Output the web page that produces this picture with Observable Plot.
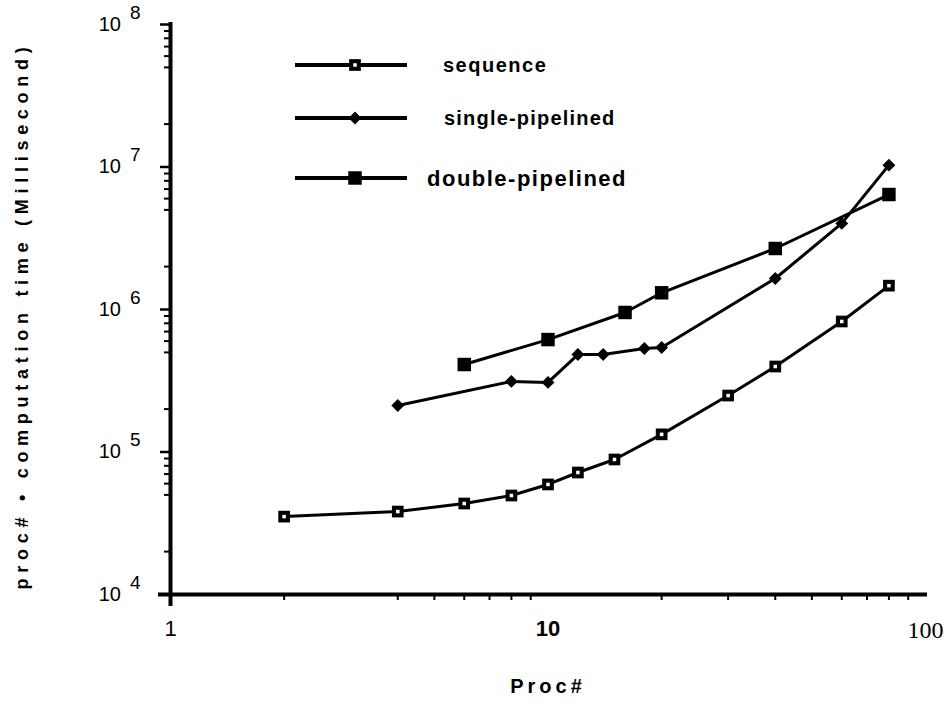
<!DOCTYPE html>
<html><head><meta charset="utf-8">
<script src="https://cdn.jsdelivr.net/npm/d3@7"></script>
<script src="https://cdn.jsdelivr.net/npm/@observablehq/plot@0.6"></script>
<style>
body{margin:0;background:#fff;}
#wrap{position:relative;width:950px;height:708px;background:#fff;}
#legend{position:absolute;left:0;top:0;pointer-events:none;}
</style></head><body><div id="wrap"></div>
<script>
// ---- data ----
const seriesNames = ["sequence", "single-pipelined", "double-pipelined"];
const seqProcs  = [2, 4, 6, 8, 10, 12, 15, 20, 30, 40, 60, 80];
const seqTimes  = [35200, 38200, 43500, 49500, 59200, 71800, 88600, 133000, 249000, 398000, 824000, 1470000];
const singleProcs = [4, 8, 10, 12, 14, 18, 20, 40, 60, 80];
const singleTimes = [212000, 313000, 308000, 483000, 483000, 532000, 541000, 1650000, 4020000, 10300000];
const doubleProcs = [6, 10, 16, 20, 40, 80];
const doubleTimes = [411000, 615000, 953000, 1310000, 2680000, 6410000];
const yTickValues = [1e4, 1e5, 1e6, 1e7, 1e8];
const yTickExponents = ["4", "5", "6", "7", "8"];
const yMinorTicks = [1e4, 1e5, 1e6, 1e7].flatMap(d => [2, 5, 6, 7, 8, 9].map(k => k * d));
const xTickValues = [1, 10, 100];
const xTickLabels = ["1", "10", "100"];
const xMinorTicks = [2, 4, 5, 6, 7, 8, 9, 20, 30, 40, 50, 60, 70, 80, 90];
const xLabel = "Proc#";
const yLabel = "proc# • computation time (Millisecond)";

const mk = (name, procs, times) => procs.map((p, i) => ({series: name, proc: p, time: times[i]}));
const seqRows = mk(seriesNames[0], seqProcs, seqTimes);
const singleRows = mk(seriesNames[1], singleProcs, singleTimes);
const doubleRows = mk(seriesNames[2], doubleProcs, doubleTimes);
const rows = [...seqRows, ...singleRows, ...doubleRows];

const SANS = "'Liberation Sans', Arial, sans-serif";
const SERIF = "'Liberation Serif', 'Times New Roman', serif";

const plot = Plot.plot({
  width: 950, height: 708,
  marginLeft: 170, marginRight: 25, marginTop: 24, marginBottom: 114,
  x: {type: "log", domain: [1, 100]},
  y: {type: "log", domain: [1e4, 1e8]},
  style: {background: "white", color: "black", fontFamily: SANS},
  marks: [
    Plot.axisY({ticks: yMinorTicks, tickSize: 6, strokeWidth: 2, tickFormat: () => "", label: null}),
    Plot.axisY({ticks: yTickValues, tickSize: 10, strokeWidth: 2.5, tickPadding: 20, fontSize: 20,
      tickFormat: () => "10", label: null}),
    Plot.axisX({ticks: xMinorTicks, tickSize: 6, strokeWidth: 2, tickFormat: () => "", label: null}),
    Plot.axisX({ticks: xTickValues, tickSize: 0, tickPadding: 26, fontSize: 22,
      tickFormat: d => xTickLabels[xTickValues.indexOf(d)], label: null}),
    Plot.ruleY([1e4], {stroke: "black", strokeWidth: 4, insetLeft: -12, insetRight: -2}),
    Plot.ruleX([1], {stroke: "black", strokeWidth: 4, insetBottom: -12, insetTop: -2}),
    Plot.text([yLabel], {frameAnchor: "left", textAnchor: "middle", rotate: -90, dx: -148, dy: 6,
      fontSize: 18, fontWeight: "bold", fill: "black"}),
    Plot.text([xLabel], {frameAnchor: "bottom", dy: 98, fontSize: 20, fontWeight: "bold", fill: "black"}),
    Plot.line(rows, {x: "proc", y: "time", z: "series", stroke: "black", strokeWidth: 3}),
    Plot.dot(seqRows, {x: "proc", y: "time", symbol: "square", r: 6.6, fill: "black"}),
    Plot.dot(seqRows, {x: "proc", y: "time", symbol: "square", r: 2, fill: "white"}),
    Plot.dot(singleRows, {x: "proc", y: "time", symbol: "diamond2", r: 5.8, fill: "black"}),
    Plot.dot(doubleRows, {x: "proc", y: "time", symbol: "square", r: 7.6, fill: "black"})
  ]
});

const wrap = document.getElementById("wrap");
wrap.appendChild(plot);
const svg = d3.select(plot);
const yScale = plot.scale("y");

function textY(el) {
  let y = parseFloat(el.getAttribute("y") || "0");
  const tr = el.getAttribute("transform");
  if (tr) { const m = /translate\(\s*([-\d.e]+)[ ,]+([-\d.e]+)/.exec(tr); if (m) y += parseFloat(m[2]); }
  let p = el.parentNode;
  while (p && p !== plot) {
    const t = p.getAttribute && p.getAttribute("transform");
    if (t) { const m = /translate\(\s*([-\d.e]+)[ ,]+([-\d.e]+)/.exec(t); if (m) y += parseFloat(m[2]); }
    p = p.parentNode;
  }
  return y;
}

// superscript exponents on y tick labels
svg.selectAll("text").filter(function() { return this.textContent === "10" && this.closest("g[aria-label='y-axis tick label']"); })
  .each(function() {
    const y = textY(this);
    const v = yScale.invert(y);
    const e = Math.round(Math.log10(v));
    const idx = yTickValues.findIndex(t => Math.round(Math.log10(t)) === e);
    const t = d3.select(this);
    t.append("tspan").attr("dx", 9).attr("dy", -12).attr("font-size", 19).text(yTickExponents[idx]);
  });
// x tick label fonts mimic the original
svg.selectAll("g[aria-label='x-axis tick label'] text").each(function() {
  const t = d3.select(this), s = this.textContent;
  if (s === "1") t.attr("font-weight", "normal").attr("font-family", SANS);
  if (s === "10") t.attr("font-weight", "bold").attr("font-family", SANS);
  if (s === "100") t.attr("font-weight", "normal").attr("font-family", SERIF).attr("font-size", 24);
});
// spread the y label to the reference's length
svg.selectAll("text").filter(function() { return this.textContent === yLabel; })
  .each(function() {
    const len = this.getComputedTextLength();
    const n = yLabel.length;
    const ls = Math.max(0, (548 - len) / n);
    d3.select(this).style("letter-spacing", ls + "px");
  });
svg.selectAll("text").filter(function() { return this.textContent === xLabel; })
  .style("letter-spacing", "4px");

// legend overlay
const legend = d3.select(wrap).append("svg").attr("id", "legend").attr("width", 950).attr("height", 708);
const legendItems = [
  {name: seriesNames[0], y: 65, tx: 443, fs: 20, ls: 1.5, sym: d3.symbolSquare, size: 6.6*6.6*Math.PI, inner: true},
  {name: seriesNames[1], y: 118, tx: 444, fs: 20, ls: 1.2, sym: d3.symbolDiamond2, size: 5.8*5.8*Math.PI},
  {name: seriesNames[2], y: 178, tx: 427, fs: 22, ls: 1.5, sym: d3.symbolSquare, size: 7.6*7.6*Math.PI}
];
legendItems.forEach(it => {
  legend.append("line").attr("x1", 295).attr("x2", 407).attr("y1", it.y).attr("y2", it.y)
    .attr("stroke", "black").attr("stroke-width", 4);
  legend.append("path").attr("transform", `translate(355,${it.y})`)
    .attr("d", d3.symbol(it.sym, it.size)()).attr("fill", "black");
  if (it.inner) legend.append("path").attr("transform", `translate(355,${it.y})`)
    .attr("d", d3.symbol(d3.symbolSquare, 4*Math.PI)()).attr("fill", "white");
  legend.append("text").attr("x", it.tx).attr("y", it.y).attr("dy", "0.35em")
    .attr("font-family", SANS).attr("font-weight", "bold")
    .attr("font-size", it.fs).style("letter-spacing", it.ls + "px").text(it.name);
});
</script></body></html>
